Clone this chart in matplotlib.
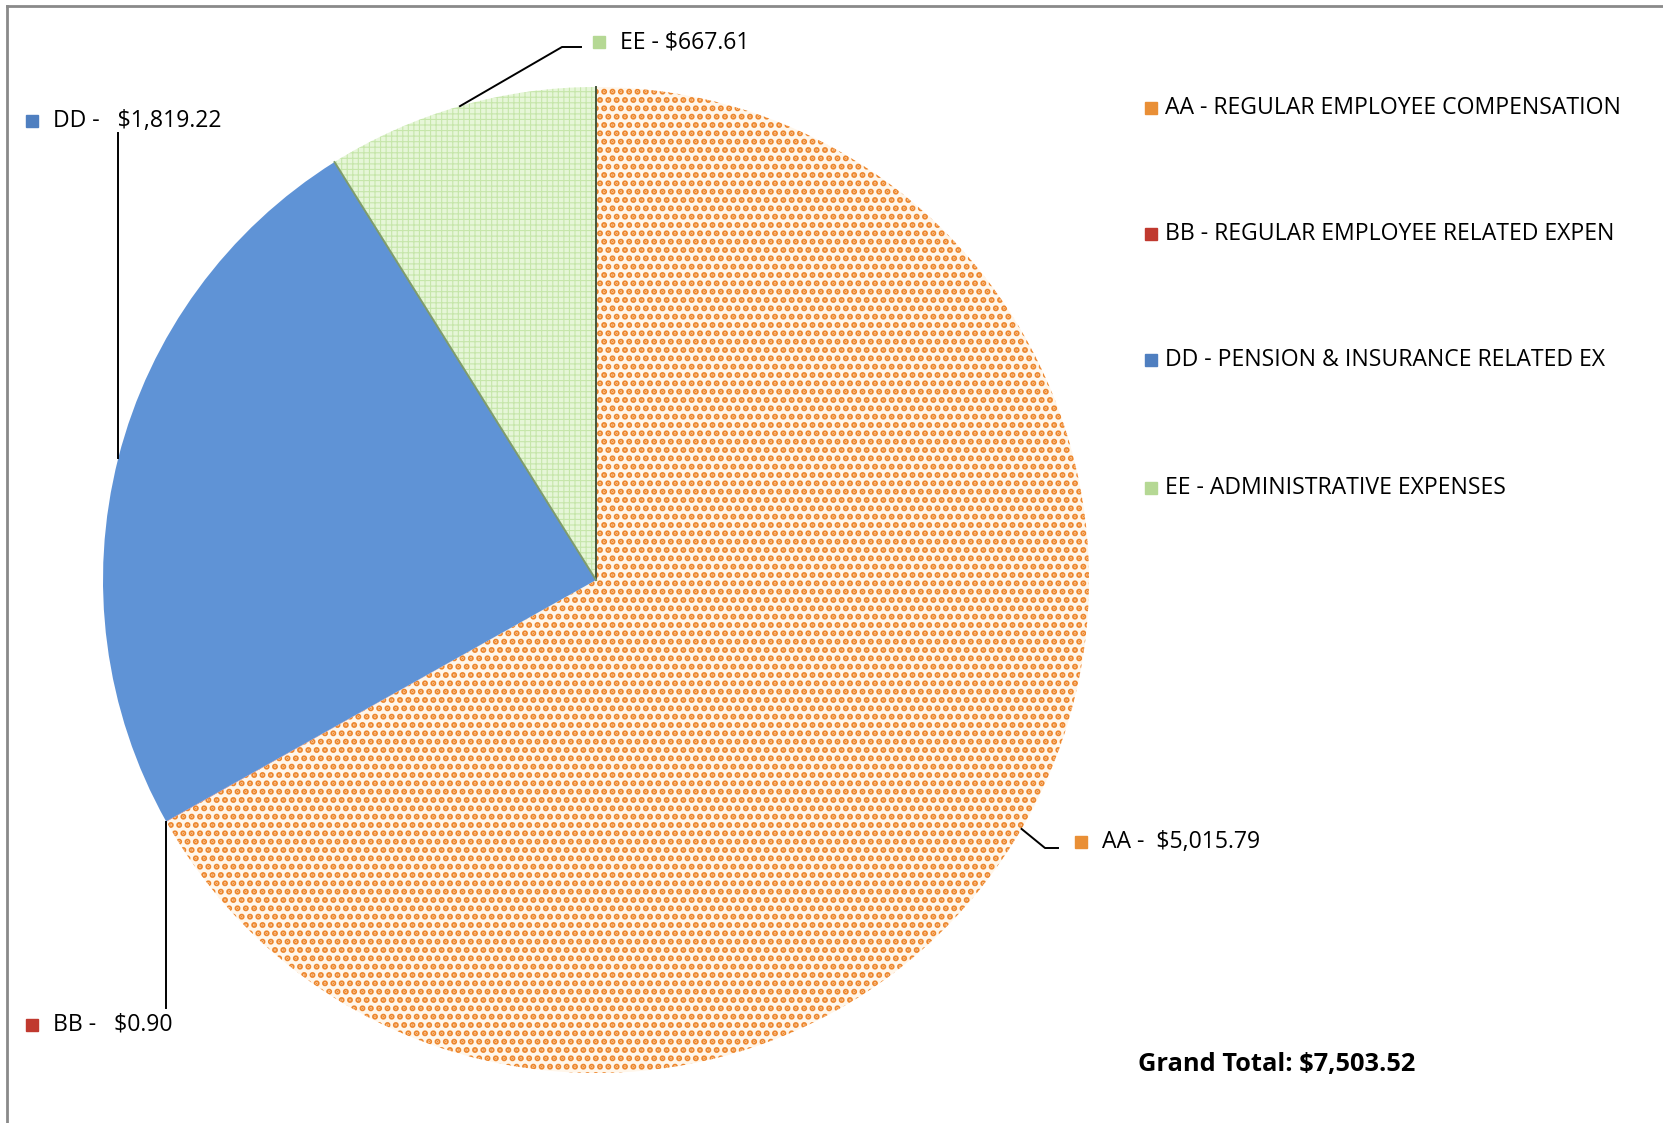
import matplotlib.pyplot as plt
import numpy as np
from matplotlib.patches import Rectangle

plt.rcParams['font.family'] = ['Open Sans', 'DejaVu Sans']
plt.rcParams['hatch.linewidth'] = 3.0

# expense categories and amounts
codes = ['AA', 'BB', 'DD', 'EE']
names = ['REGULAR EMPLOYEE COMPENSATION', 'REGULAR EMPLOYEE RELATED EXPEN',
         'PENSION & INSURANCE RELATED EX', 'ADMINISTRATIVE EXPENSES']
amounts = [5015.79, 0.90, 1819.22, 667.61]
value_labels = ['AA -  $5,015.79', 'BB -   $0.90', 'DD -   $1,819.22', 'EE - $667.61']
grand_total = 'Grand Total: $7,503.52'

W, H = 1663, 1123
fig = plt.figure(figsize=(W / 100, H / 100), dpi=100)
ax = fig.add_axes([0, 0, 1, 1])

def Y(y):
    return H - y

cx, cy, r = 596, Y(580), 493
face = ['#fff6ea', '#c0392f', '#5f93d6', '#e6f6d8']
hatchc = ['#ed862c', '#c0392f', '#5f93d6', '#c6e6aa']
hatches = ['..', None, None, '+++']
hatch_lw = [3.0, 1.0, 1.0, 0.8]
mark_col = ['#e98f36', '#c0392f', '#4f7fc0', '#b5d894']

wedges, _ = ax.pie(amounts, startangle=90, counterclock=False,
                   center=(cx, cy), radius=r, colors=face,
                   wedgeprops=dict(linewidth=0))
for w, ec, h, hl in zip(wedges, hatchc, hatches, hatch_lw):
    w.set_edgecolor(ec)
    if h:
        w.set_hatch(h)
        if hasattr(w, 'set_hatch_linewidth'):
            w.set_hatch_linewidth(hl)

# seams along the EE slice
for ang, col in [(wedges[3].theta1, '#46553a'), (wedges[3].theta2, '#7f9c6c')]:
    t = np.deg2rad(ang)
    ax.plot([cx, cx + r * np.cos(t)], [cy, cy + r * np.sin(t)], color=col, lw=1.4)

ax.set_xlim(0, W)
ax.set_ylim(0, H)
ax.set_aspect('auto')
ax.axis('off')

def edge_point(w):
    t = np.deg2rad(0.5 * (w.theta1 + w.theta2))
    return cx + r * np.cos(t), cy + r * np.sin(t)

fs = 16.6
# leader lines and data labels
ex, ey = edge_point(wedges[0])
ax.plot([ex, 1045, 1058], [ey, Y(848), Y(848)], color='black', lw=1.4)
ex, ey = edge_point(wedges[1])
ax.plot([ex, ex], [ey, Y(1008)], color='black', lw=1.4)
ex, ey = edge_point(wedges[2])
ax.plot([ex, ex], [ey, Y(133)], color='black', lw=1.4)
ex, ey = edge_point(wedges[3])
ax.plot([ex, 562, 581], [ey, Y(47), Y(47)], color='black', lw=1.4)

label_pos = [(1081, 842), (32, 1025), (32, 121), (599, 42)]
for (x, y), txt, mc in zip(label_pos, value_labels, mark_col):
    ax.add_patch(Rectangle((x - 6, Y(y) - 6), 12, 12, color=mc))
    ax.text(x + 21, Y(y), txt, fontsize=fs, va='center', ha='left')

# legend on the right
leg_y = [108, 234, 360, 488]
for yy, c, n, mc in zip(leg_y, codes, names, mark_col):
    ax.add_patch(Rectangle((1151 - 6, Y(yy) - 6), 12, 12, color=mc))
    ax.text(1165, Y(yy), f'{c} - {n}', fontsize=fs, va='center', ha='left')

ax.text(1138, Y(1065), grand_total, fontsize=18.3, fontweight='bold',
        va='center', ha='left')

# frame lines
ax.plot([7, W], [Y(6), Y(6)], color='#8a8a8a', lw=2)
ax.plot([7, 7], [Y(6), 0], color='#8a8a8a', lw=2)

fig.savefig('out.png', dpi=100)
